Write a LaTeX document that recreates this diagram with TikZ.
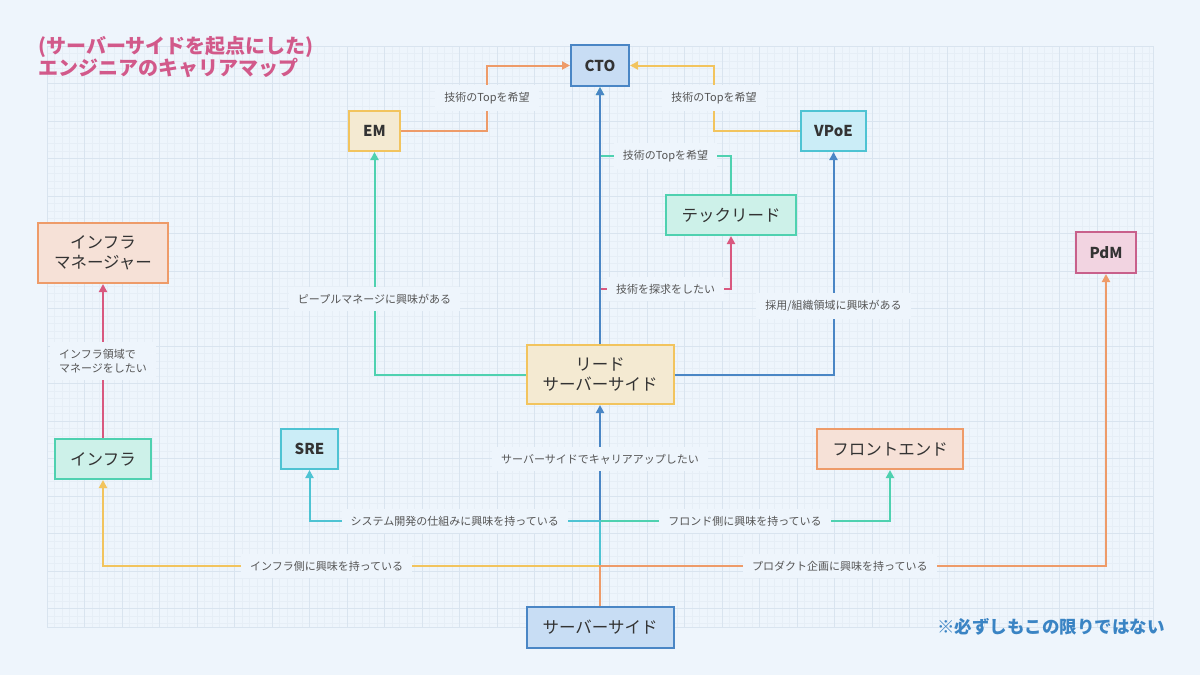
\documentclass[tikz,border=0pt]{standalone}
\usepackage{fontspec}
\setmainfont{Noto Sans CJK JP}
\usepackage{tikz}
\usetikzlibrary{arrows.meta}
\usetikzlibrary{positioning, calc}
\usepackage{xcolor}

\definecolor{bgc}{HTML}{EEF5FC}
\definecolor{gridminor}{HTML}{E6EEF6}
\definecolor{gridmajor}{HTML}{D9E4EF}
\definecolor{textc}{HTML}{333333}
\definecolor{lblc}{HTML}{555555}
\definecolor{titlec}{HTML}{D2598A}
\definecolor{notec}{HTML}{3A84C4}
\definecolor{blueline}{HTML}{4A86C5}
\definecolor{cyanc}{HTML}{4EC3D3}
\definecolor{mintc}{HTML}{4FD1B0}
\definecolor{orangec}{HTML}{EE9B69}
\definecolor{yellowc}{HTML}{F2C45E}
\definecolor{pinkc}{HTML}{D9587F}
\definecolor{pdmc}{HTML}{C8608B}
\definecolor{bluefill}{HTML}{C8DDF4}
\definecolor{beigefill}{HTML}{F4EAD2}
\definecolor{cyanfill}{HTML}{CBEDF7}
\definecolor{mintfill}{HTML}{CDF1E9}
\definecolor{peachfill}{HTML}{F6E1D7}
\definecolor{pinkfill}{HTML}{F2D4E1}

\begin{document}
\begin{tikzpicture}[x=1pt, y=-1pt, >={Triangle[length=8pt, width=8pt]},
    box/.style={draw, line width=2pt, inner sep=0pt, text=textc, align=center,
      font=\fontsize{16.5}{19.5}\selectfont},
    bbox/.style={box, font=\fontsize{15}{18}\selectfont\bfseries},
    lbl/.style={fill=bgc, text=lblc, inner xsep=9pt, inner ysep=7pt,
      font=\fontsize{11}{14}\selectfont},
    conn/.style={->, line width=2pt}]
      \useasboundingbox (0,0) rectangle (1200,675);
      \fill[bgc] (0,0) rectangle (1200,675);

      % grid
      \foreach \i in {0,...,147} \draw[gridminor, line width=0.4pt] ({47+7.5*\i},46) -- ({47+7.5*\i},627);
      \foreach \j in {0,...,77} \draw[gridminor, line width=0.4pt] (47,{46+7.5*\j}) -- (1153,{46+7.5*\j});
      \foreach \i in {0,...,29} \draw[gridmajor, line width=0.8pt] ({47+37.5*\i},46) -- ({47+37.5*\i},627);
      \foreach \j in {0,...,15} \draw[gridmajor, line width=0.8pt] (47,{46+37.5*\j}) -- (1153,{46+37.5*\j});
      \draw[gridmajor, line width=0.8pt] (47,46) rectangle (1153,627);

      \node[anchor=west, align=left, text=titlec, inner sep=0pt,
        font=\fontsize{20}{19.5}\selectfont\bfseries] (title) at (38,57) {(サーバーサイドを起点にした)\\エンジニアのキャリアマップ};
      \node[anchor=east, text=notec, inner sep=0pt,
        font=\fontsize{17.5}{20}\selectfont\bfseries] (note) at (1165,627) {※必ずしもこの限りではない};

      \node[bbox, fill=bluefill, draw=blueline, minimum width=58, minimum height=41] (cto) at (600,65.5) {CTO};
      \node[bbox, fill=beigefill, draw=yellowc, minimum width=51, minimum height=40] (em) at (374.5,131) {EM};
      \node[bbox, fill=cyanfill, draw=cyanc, minimum width=65, minimum height=40] (vpoe) at (833.5,131) {VPoE};
      \node[box, fill=mintfill, draw=mintc, minimum width=130, minimum height=40] (tl) at (731,215) {テックリード};
      \node[box, fill=peachfill, draw=orangec, minimum width=130, minimum height=60] (imgr) at (103,253) {インフラ\\マネージャー};
      \node[bbox, fill=pinkfill, draw=pdmc, minimum width=60, minimum height=41] (pdm) at (1106,252.5) {PdM};
      \node[box, fill=beigefill, draw=yellowc, minimum width=147, minimum height=59] (lead) at (600,374.5) {リード\\サーバーサイド};
      \node[box, fill=mintfill, draw=mintc, minimum width=96, minimum height=40] (infra) at (103,459) {インフラ};
      \node[bbox, fill=cyanfill, draw=cyanc, minimum width=57, minimum height=40] (sre) at (309.5,449) {SRE};
      \node[box, fill=peachfill, draw=orangec, minimum width=146, minimum height=40] (fe) at (890,449) {フロントエンド};
      \node[box, fill=bluefill, draw=blueline, minimum width=147, minimum height=41] (srv) at (600,627.5) {サーバーサイド};

      % upper connectors
      \draw[conn, orangec] (em.east) -- ++(86,0) |- node[lbl, pos=0.25] {技術のTopを希望} (cto.west);
      \draw[conn, yellowc] (vpoe.west) -- ++(-86,0) |- node[lbl, pos=0.25] {技術のTopを希望} (cto.east);
      \draw[conn, mintc] (tl.north) -- ++(0,-38) -| node[lbl, pos=0.25] {技術のTopを希望} (cto.south);
      \draw[conn, pinkc] (lead.north) -- ++(0,-55) -| node[lbl, pos=0.25] {技術を探求をしたい} (tl.south);
      \draw[conn, blueline] (lead.north) -- (cto.south);
      \draw[conn, mintc] (lead.west) -| node[lbl, pos=0.67] {ピープルマネージに興味がある} (em.south);
      \draw[conn, blueline] (lead.east) -| node[lbl, pos=0.654] {採用/組織領域に興味がある} (vpoe.south);
      \draw[conn, pinkc] (infra.north) -- node[lbl, align=left] {インフラ領域で\\マネージをしたい} (imgr.south);

      % lower connectors
      \draw[conn, blueline] (srv.north) -- node[lbl, pos=0.73] {サーバーサイドでキャリアアップしたい} (lead.south);
      \draw[conn, yellowc] (srv.north) -- ++(0,-40) -| node[lbl, pos=0.275] {インフラ側に興味を持っている} (infra.south);
      \draw[conn, mintc] (srv.north) -- ++(0,-85) -| node[lbl, pos=0.25] {フロンド側に興味を持っている} (fe.south);
      \draw[conn, cyanc] (srv.north) -- ++(0,-85) -| node[lbl, pos=0.25] {システム開発の仕組みに興味を持っている} (sre.south);
      \draw[conn, orangec] (srv.north) -- ++(0,-40) -| node[lbl, pos=0.237] {プロダクト企画に興味を持っている} (pdm.south);
    \end{tikzpicture}
\end{document}
